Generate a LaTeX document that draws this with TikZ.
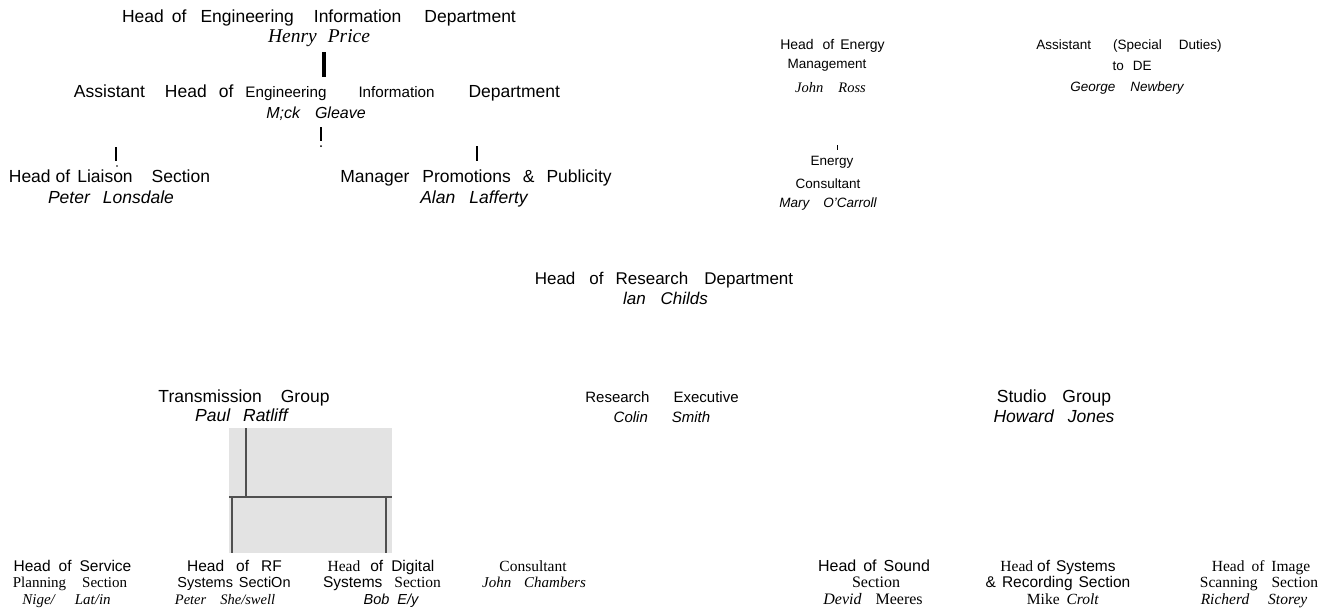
\documentclass[tikz,border=0pt]{standalone}
\usepackage{fontspec}
\setmainfont{Liberation Serif}
\setsansfont{Liberation Sans}
\newcommand\fsz[1]{\fontsize{#1}{#1}\selectfont}
\newcommand\gp[1]{\hspace*{#1pt}}
\definecolor{linegray}{HTML}{505050}
\definecolor{boxgray}{HTML}{E3E3E3}
\begin{document}
\begin{tikzpicture}[x=1pt,y=-1pt,
  every node/.style={inner sep=0pt,outer sep=0pt,anchor=base},
  ss/.style={font=\sffamily\fsz{#1}},
  si/.style={font=\sffamily\itshape\fsz{#1}},
  rs/.style={font=\rmfamily\fsz{#1}},
  ri/.style={font=\rmfamily\itshape\fsz{#1}},
  frag/.style={draw=black,line cap=butt},
  tline/.style={draw=linegray,line width=1.8pt}]
\fill[white] (0,0) rectangle (1332,614);
\useasboundingbox (0,0) rectangle (1332,614);

% Engineering Information Department
\node[ss=17.5] (eng) at (319,22) {Head\gp{8}of\gp{14}Engineering\gp{20}Information\gp{23}Department};
\node[ri=19.5] (price) at (319,42) {Henry\gp{11}Price};
\coordinate (b1t) at (324,52); \coordinate (b1b) at (324,77);
\draw[frag,line width=3.5pt] (b1t) -- (b1b);
\node[ss=17.5] (aeng) at (317,97) {Assistant\gp{20}Head\gp{12}of\gp{12}{\fsz{15.2}Engineering\gp{32}Information}\gp{34}Department};
\node[si=16] (gleave) at (316,118) {M;ck\gp{15}Gleave};
\coordinate (b2t) at (321,127); \coordinate (b2b) at (321,141); \coordinate (b2d) at (321,146);
\draw[frag,line width=1.8pt] (b2t) -- (b2b);
\fill (b2d) circle (1);
\coordinate (b3t) at (116,147); \coordinate (b3b) at (116,161); \coordinate (b3d) at (117,166);
\draw[frag,line width=2.2pt] (b3t) -- (b3b);
\fill (b3d) circle (0.9);
\coordinate (b4t) at (477,146); \coordinate (b4b) at (477,161);
\draw[frag,line width=2.2pt] (b4t) -- (b4b);
\node[ss=17.5] (liaison) at (109.5,182) {Head\gp{5}of\gp{7}Liaison\gp{19}Section};
\node[si=17.5] (lonsdale) at (111,203) {Peter\gp{13}Lonsdale};
\node[ss=17.5] (manager) at (476,182) {Manager\gp{13}Promotions\gp{12}\&\gp{12}Publicity};
\node[si=17.5] (lafferty) at (474,203) {Alan\gp{14}Lafferty};

% Energy management
\node[ss=14] (hem1) at (832.5,49) {Head\gp{9}of\gp{6}Energy};
\node[ss=13.5] (hem2) at (827,68) {Management};
\node[ri=14.5] (ross) at (830.5,92) {John\gp{15}Ross};
\coordinate (b5t) at (837,145); \coordinate (b5b) at (837,150);
\draw[frag,line width=0.6pt] (b5t) -- (b5b);
\node[ss=13.5] (ec1) at (832,165) {Energy};
\node[ss=13.5] (ec2) at (828,188) {Consultant};
\node[si=13.5] (carroll) at (828,207) {Mary\gp{14}O'Carroll};

% Assistant special duties
\node[ss=13.5] (asd1) at (1129,49) {Assistant\gp{22}(Special\gp{17}Duties)};
\node[ss=13.5] (asd2) at (1132,70) {to\gp{9}DE};
\node[si=13.5] (newbery) at (1127,91) {George\gp{15}Newbery};

% Research department
\node[ss=17] (hrd) at (664,284) {Head\gp{14}of\gp{12}Research\gp{16}Department};
\node[si=17] (childs) at (665.5,304) {lan\gp{15}Childs};

% Groups
\node[ss=17.5] (trans) at (244,402) {Transmission\gp{19}Group};
\node[si=17.5] (ratliff) at (241.5,421) {Paul\gp{13}Ratliff};
\node[ss=15] (rexec) at (662,402) {Research\gp{24}Executive};
\node[si=15] (smith) at (662,422) {Colin\gp{24}Smith};
\node[ss=17.5] (studio) at (1054,402) {Studio\gp{16}Group};
\node[si=17.5] (jones) at (1054,422) {Howard\gp{14}Jones};

% grey panel with connector lines
\fill[boxgray] (229,428) rectangle (392,553);
\coordinate (g1) at (246,428); \coordinate (g2) at (246,497);
\coordinate (h1) at (229,497); \coordinate (h2) at (392,497);
\coordinate (l1) at (232,497); \coordinate (l2) at (232,553);
\coordinate (r1) at (386,497); \coordinate (r2) at (386,553);
\draw[tline] (g1) -- (g2);
\draw[tline] (h1) -- (h2);
\draw[tline] (l1) -- (l2);
\draw[tline] (r1) -- (r2);

% Bottom row
\node[ss=15.5] (svc1) at (72.5,571) {Head\gp{8}of\gp{8}Service};
\node[rs=15] (svc2) at (70,587) {Planning\gp{16}Section};
\node[ri=15] (svc3) at (66.5,604) {Nige/\gp{20}Lat/in};
\node[ss=15.5] (rf1) at (234.5,571) {Head\gp{12}of\gp{12}RF};
\node[ss=14.5] (rf2) at (234,587) {Systems\gp{6}SectiOn};
\node[ri=14.5] (rf3) at (225,604) {Peter\gp{14}She/swell};
\node[ss=15.5] (dig1) at (381,571) {{\rmfamily Head}\gp{10}of\gp{8}Digital};
\node[ss=15.5] (dig2) at (382,587) {Systems\gp{12}{\rmfamily Section}};
\node[si=14.5] (dig3) at (391,604) {Bob\gp{8}E/y};
\node[rs=15.5] (cons1) at (533,571) {Consultant};
\node[ri=15] (cons2) at (534,587) {John\gp{13}Chambers};
\node[ss=16] (snd1) at (874,571) {Head\gp{7}of\gp{7}Sound};
\node[rs=16] (snd2) at (876,587) {Section};
\node[rs=16] (snd3) at (873,604) {{\itshape Devid}\gp{14}Meeres};
\node[ss=15.5] (sys1) at (1058,571) {{\rmfamily Head}\gp{4}of\gp{6}Systems};
\node[ss=15.5] (sys2) at (1058,587) {\&\gp{6}Recording\gp{6}Section};
\node[rs=15.5] (sys3) at (1063,604) {Mike\gp{7}\textit{Crolt}};
\node[rs=15.5] (img1) at (1261,571) {Head\gp{7}of\gp{7}Image};
\node[rs=15.5] (img2) at (1259,587) {Scanning\gp{14}Section};
\node[ri=15.5] (img3) at (1254,604) {Richerd\gp{19}Storey};
\end{tikzpicture}
\end{document}
